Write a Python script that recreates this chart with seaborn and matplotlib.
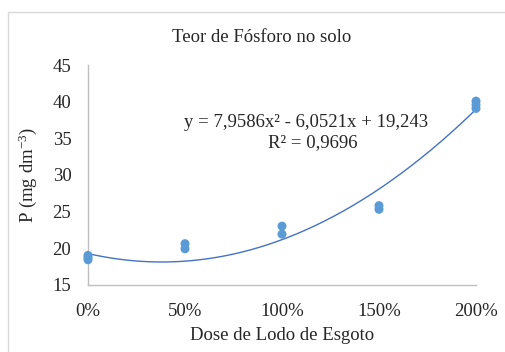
import numpy as np
import pandas as pd
import matplotlib
matplotlib.use("Agg")
import matplotlib.pyplot as plt
from matplotlib.ticker import FuncFormatter
from matplotlib.patches import Rectangle
import seaborn as sns

# Dose de lodo (fração da dose recomendada) e teor de P medido em cada repetição
dose = [0.0, 0.0, 0.0, 0.5, 0.5, 1.0, 1.0, 1.5, 1.5, 2.0, 2.0, 2.0]
fosforo = [18.4, 18.7, 19.0, 19.9, 20.6, 21.9, 23.0, 25.3, 25.8, 39.1, 39.6, 40.1]

# Coeficientes da regressão polinomial de 2º grau
coef_a = 7.9586
coef_b = -6.0521
coef_c = 19.243
r2 = 0.9696

x_ticks = [0.0, 0.5, 1.0, 1.5, 2.0]
y_ticks = [15, 20, 25, 30, 35, 40, 45]

sns.set_theme(style="white")
plt.rcParams["font.family"] = ["Liberation Serif", "DejaVu Serif"]
plt.rcParams["mathtext.fontset"] = "custom"
plt.rcParams["mathtext.rm"] = "Liberation Serif"
plt.rcParams["mathtext.it"] = "Liberation Serif:italic"

df = pd.DataFrame({"dose": dose, "P": fosforo})
xs = np.linspace(0, 2, 200)
trend = pd.DataFrame({"dose": xs, "P": coef_a * xs**2 + coef_b * xs + coef_c})

fig = plt.figure(figsize=(5.06, 3.52), dpi=100)
ax = fig.add_axes([88 / 506, 1 - 284.6 / 352, (476 - 88) / 506, (284.6 - 65.3) / 352])

# Moldura externa do gráfico
fig.patches.append(Rectangle((8 / 506, -0.05), 1.2, 1 - 12 / 352 + 0.05,
                             transform=fig.transFigure, fill=False,
                             edgecolor="#D9D9D9", linewidth=1.0))

sns.lineplot(data=trend, x="dose", y="P", ax=ax, color="#4472C4", linewidth=1.0)
sns.scatterplot(data=df, x="dose", y="P", ax=ax, color="#5B9BD5", s=42,
                edgecolor="none", zorder=3, clip_on=False)

ax.set_xlim(0, 2)
ax.set_ylim(15, 45)
ax.set_xticks(x_ticks)
ax.set_yticks(y_ticks)
ax.xaxis.set_major_formatter(FuncFormatter(lambda v, p: f"{v * 100:.0f}%"))
ax.tick_params(axis="both", length=0, labelsize=13.5, colors="#262626")
ax.tick_params(axis="x", pad=13)
ax.tick_params(axis="y", pad=12)

for side in ["top", "right"]:
    ax.spines[side].set_visible(False)
for side in ["left", "bottom"]:
    ax.spines[side].set_color("#BFBFBF")
    ax.spines[side].set_linewidth(1.0)

ax.set_xlabel("Dose de Lodo de Esgoto", fontsize=13.5, color="#262626", labelpad=5)
ax.set_ylabel(r"P (mg dm$^{-3}$)", fontsize=13.5, color="#262626", labelpad=10)
fig.text(262 / 506, 1 - 37 / 352, "Teor de Fósforo no solo", ha="center",
         va="center", fontsize=13.5, color="#262626")

eq = f"y = {coef_a:.4f}x² - {abs(coef_b):.4f}x + {coef_c:.3f}".replace(".", ",")
fig.text(306 / 506, 1 - 122 / 352, eq, ha="center", va="center", fontsize=13.5,
         color="#262626")
fig.text(313 / 506, 1 - 143 / 352, f"R² = {r2:.4f}".replace(".", ","),
         ha="center", va="center", fontsize=13.5, color="#262626")

fig.savefig("out.png", dpi=100, facecolor="white")
